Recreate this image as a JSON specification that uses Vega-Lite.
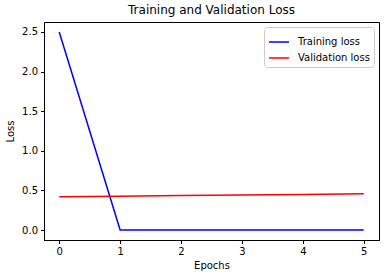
{
  "$schema": "https://vega.github.io/schema/vega-lite/v6.json",
  "autosize": {"type": "none"},
  "width": 335,
  "height": 218,
  "padding": {"left": 44, "top": 22, "right": 7, "bottom": 38},
  "background": "white",
  "title": {"text": "Training and Validation Loss", "font": "DejaVu Sans", "fontSize": 12, "fontWeight": "normal", "color": "black", "offset": 5},
  "config": {
    "view": {"stroke": "black", "strokeWidth": 1},
    "axis": {"grid": false, "domainColor": "black", "tickColor": "black", "labelColor": "black", "titleColor": "black", "labelFont": "DejaVu Sans", "titleFont": "DejaVu Sans", "labelFontSize": 10, "titleFontSize": 10, "titleFontWeight": "normal", "tickSize": 3.5, "labelPadding": 3}
  },
  "data": {"values": [
    {"epoch": 0, "loss": 2.5, "series": "Training loss"},
    {"epoch": 1, "loss": 0.002, "series": "Training loss"},
    {"epoch": 2, "loss": 0.001, "series": "Training loss"},
    {"epoch": 3, "loss": 0.001, "series": "Training loss"},
    {"epoch": 4, "loss": 0.001, "series": "Training loss"},
    {"epoch": 5, "loss": 0.001, "series": "Training loss"},
    {"epoch": 0, "loss": 0.420, "series": "Validation loss"},
    {"epoch": 1, "loss": 0.428, "series": "Validation loss"},
    {"epoch": 2, "loss": 0.436, "series": "Validation loss"},
    {"epoch": 3, "loss": 0.443, "series": "Validation loss"},
    {"epoch": 4, "loss": 0.450, "series": "Validation loss"},
    {"epoch": 5, "loss": 0.457, "series": "Validation loss"}
  ]},
  "mark": {"type": "line", "strokeWidth": 1.5, "clip": true},
  "encoding": {
    "x": {"field": "epoch", "type": "quantitative", "title": "Epochs",
      "scale": {"domain": [-0.25, 5.25], "nice": false, "zero": false},
      "axis": {"values": [0, 1, 2, 3, 4, 5], "format": "d", "titlePadding": 4}},
    "y": {"field": "loss", "type": "quantitative", "title": "Loss",
      "scale": {"domain": [-0.125, 2.625], "nice": false, "zero": false},
      "axis": {"values": [0, 0.5, 1, 1.5, 2, 2.5], "format": ".1f", "titlePadding": 6}},
    "color": {"field": "series", "type": "nominal",
      "scale": {"domain": ["Training loss", "Validation loss"], "range": ["#0000ff", "#ff0000"]},
      "legend": {"title": null, "orient": "top-right", "symbolType": "stroke", "symbolSize": 400, "symbolStrokeWidth": 1.5, "labelFont": "DejaVu Sans", "labelFontSize": 10, "labelColor": "black", "labelOffset": 8, "fillColor": "white", "strokeColor": "#cccccc", "cornerRadius": 3, "padding": 4, "offset": 5, "rowPadding": -5}}
  }
}
